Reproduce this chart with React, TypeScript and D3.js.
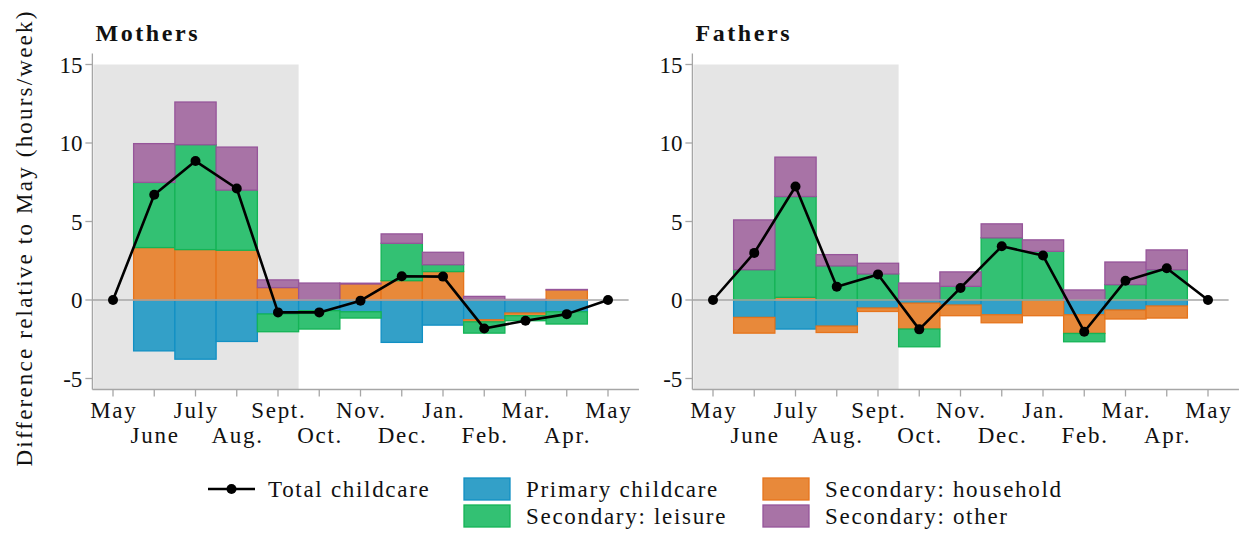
import { useMemo } from "react"
import * as d3 from "d3"

const months = ["May", "June", "July", "Aug.", "Sept.", "Oct.", "Nov.", "Dec.", "Jan.", "Feb.", "Mar.", "Apr.", "May"]

// bars sit on months 1..11 (June .. Apr.)
const motherPrimary = [-3.24, -3.77, -2.64, -0.89, -0.68, -0.75, -2.7, -1.6, -1.26, -0.83, -0.75]
const motherHousehold = [3.34, 3.21, 3.17, 0.79, 0, 1.02, 1.23, 1.81, -0.13, -0.17, 0.64]
const motherLeisure = [4.15, 6.68, 3.83, -1.13, -1.17, -0.4, 2.38, 0.44, -0.72, -0.32, -0.78]
const motherOther = [2.47, 2.72, 2.74, 0.49, 1.08, 0.05, 0.6, 0.79, 0.23, 0.04, 0.03]
const motherTotal = [0, 6.7, 8.85, 7.1, -0.79, -0.79, -0.04, 1.51, 1.49, -1.81, -1.32, -0.9, 0]

const fatherPrimary = [-1.11, -1.85, -1.66, -0.51, -0.2, -0.32, -0.94, 0, -0.94, -0.64, -0.38]
const fatherHousehold = [-1.0, 0.17, -0.41, -0.22, -1.65, -0.68, -0.51, -1.0, -1.19, -0.57, -0.77]
const fatherLeisure = [1.93, 6.42, 2.17, 1.66, -1.13, 0.87, 3.96, 3.1, -0.53, 0.98, 1.93]
const fatherOther = [3.17, 2.51, 0.72, 0.68, 1.08, 0.92, 0.89, 0.73, 0.64, 1.44, 1.26]
const fatherTotal = [0, 3.0, 7.23, 0.85, 1.63, -1.87, 0.77, 3.42, 2.83, -2.02, 1.23, 2.02, 0]

const keys = ["primary", "household", "leisure", "other"] as const
const labels: Record<string, string> = {
  primary: "Primary childcare",
  household: "Secondary: household",
  leisure: "Secondary: leisure",
  other: "Secondary: other",
}
const fills: Record<string, string> = {
  primary: "#33a0c8",
  household: "#e8893a",
  leisure: "#33c173",
  other: "#a873a6",
}
const strokes: Record<string, string> = {
  primary: "#1190c4",
  household: "#e6741c",
  leisure: "#14b456",
  other: "#96559a",
}

const FONT = "'Liberation Serif', 'DejaVu Serif', serif"
const AXIS = "#a6a6a6"
const TEXT = "#111"
const SPACING = 1.7

type Row = { i: number; primary: number; household: number; leisure: number; other: number }

interface PanelProps {
  title: string
  dx: number
  primary: number[]
  household: number[]
  leisure: number[]
  other: number[]
  total: number[]
}

function Panel({ title, dx, primary, household, leisure, other, total }: PanelProps) {
  const x = d3.scaleLinear().domain([0, 12]).range([113 + dx, 608 + dx])
  const y = d3.scaleLinear().domain([-5, 15]).range([378.5, 64.5])

  const series = useMemo(() => {
    const rows: Row[] = primary.map((_, k) => ({
      i: k + 1,
      primary: primary[k],
      household: household[k],
      leisure: leisure[k],
      other: other[k],
    }))
    return d3.stack<Row>().keys(keys as unknown as string[]).offset(d3.stackOffsetDiverging)(rows)
  }, [primary, household, leisure, other])

  const line = d3
    .line<number>()
    .x((_, i) => x(i))
    .y((d) => y(d))

  const yTop = 15.7
  const yBottom = -5.7

  return (
    <g>
      {/* shaded summer period */}
      <rect
        x={x(-0.5) + 1}
        y={y(15)}
        width={x(4.5) - x(-0.5) - 1}
        height={y(yBottom) - y(15)}
        fill="#e5e5e5"
      />
      {series.map((s) => (
        <g key={s.key}>
          {s.map((d) => {
            const y0 = y(d[0])
            const y1 = y(d[1])
            if (Math.abs(y1 - y0) < 0.01) return null
            return (
              <rect
                key={d.data.i}
                x={x(d.data.i - 0.5)}
                y={Math.min(y0, y1)}
                width={x(d.data.i + 0.5) - x(d.data.i - 0.5)}
                height={Math.abs(y1 - y0)}
                fill={fills[s.key]}
                stroke={strokes[s.key]}
                strokeWidth={1.3}
              />
            )
          })}
        </g>
      ))}
      {/* zero line */}
      <line x1={x(-0.5)} x2={x(12.5)} y1={y(0)} y2={y(0)} stroke={AXIS} strokeWidth={1.4} />
      <path d={line(total) ?? ""} fill="none" stroke="#000" strokeWidth={2.6} strokeLinejoin="round" />
      {total.map((v, i) => (
        <circle key={i} cx={x(i)} cy={y(v)} r={5} fill="#000" />
      ))}

      {/* y axis */}
      <line x1={x(-0.5)} x2={x(-0.5)} y1={y(yTop)} y2={y(yBottom)} stroke={AXIS} strokeWidth={1.3} />
      {y.ticks(5).map((t) => (
        <g key={t}>
          <line x1={x(-0.5) - 7} x2={x(-0.5)} y1={y(t)} y2={y(t)} stroke={AXIS} strokeWidth={1.3} />
          <text
            x={x(-0.5) - 10}
            y={y(t)}
            dy="0.35em"
            textAnchor="end"
            fontFamily={FONT}
            fontSize={23}
            fill={TEXT}
          >
            {String(t)}
          </text>
        </g>
      ))}

      {/* x axis */}
      <line x1={x(-0.5)} x2={x(12.75)} y1={y(yBottom)} y2={y(yBottom)} stroke={AXIS} strokeWidth={1.3} />
      {months.map((m, i) => (
        <g key={i}>
          <line x1={x(i)} x2={x(i)} y1={y(yBottom)} y2={y(yBottom) + 7} stroke={AXIS} strokeWidth={1.3} />
          <text
            x={x(i) + SPACING / 2}
            y={i % 2 === 0 ? 418 : 443}
            textAnchor="middle"
            fontFamily={FONT}
            fontSize={23}
            letterSpacing={SPACING}
            fill={TEXT}
          >
            {m}
          </text>
        </g>
      ))}

      <text
        x={x(-0.5) + 3}
        y={41}
        fontFamily={FONT}
        fontSize={24}
        fontWeight="bold"
        letterSpacing={2.6}
        fill={TEXT}
      >
        {title}
      </text>
    </g>
  )
}

export default function App() {
  const legendRows = [
    { key: "primary", col: 0, row: 0 },
    { key: "household", col: 1, row: 0 },
    { key: "leisure", col: 0, row: 1 },
    { key: "other", col: 1, row: 1 },
  ]
  const colX = [464, 763]
  const rowY = [489, 516]

  return (
    <svg
      width={1245}
      height={533}
      style={{ position: "absolute", left: 0, top: 0, display: "block", background: "#fff" }}
    >
      <Panel
        title="Mothers"
        dx={0}
        primary={motherPrimary}
        household={motherHousehold}
        leisure={motherLeisure}
        other={motherOther}
        total={motherTotal}
      />
      <Panel
        title="Fathers"
        dx={600}
        primary={fatherPrimary}
        household={fatherHousehold}
        leisure={fatherLeisure}
        other={fatherOther}
        total={fatherTotal}
      />

      <text
        transform="translate(32,238) rotate(-90)"
        textAnchor="middle"
        fontFamily={FONT}
        fontSize={23}
        letterSpacing={2.2}
        fill={TEXT}
      >
        Difference relative to May (hours/week)
      </text>

      {/* legend */}
      <g>
        <line x1={208} x2={255} y1={rowY[0]} y2={rowY[0]} stroke="#000" strokeWidth={2.6} />
        <circle cx={231.5} cy={rowY[0]} r={5} fill="#000" />
        <text
          x={268}
          y={rowY[0]}
          dy="0.33em"
          fontFamily={FONT}
          fontSize={23}
          letterSpacing={SPACING}
          fill={TEXT}
        >
          Total childcare
        </text>
        {legendRows.map((d) => (
          <g key={d.key}>
            <rect
              x={colX[d.col]}
              y={rowY[d.row] - 11}
              width={46}
              height={22}
              fill={fills[d.key]}
              stroke={strokes[d.key]}
              strokeWidth={1.3}
            />
            <text
              x={colX[d.col] + 62}
              y={rowY[d.row]}
              dy="0.33em"
              fontFamily={FONT}
              fontSize={23}
              letterSpacing={SPACING}
              fill={TEXT}
            >
              {labels[d.key]}
            </text>
          </g>
        ))}
      </g>
    </svg>
  )
}
